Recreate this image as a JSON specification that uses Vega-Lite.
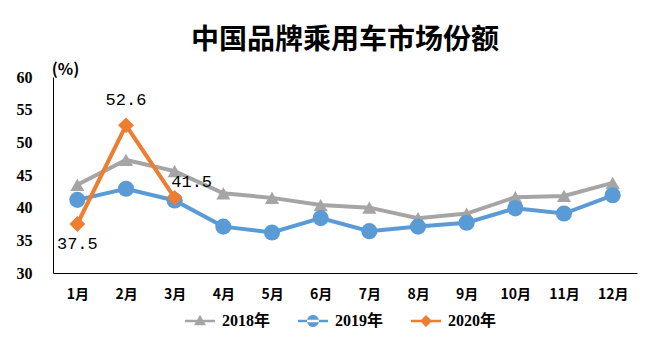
{
  "$schema": "https://vega.github.io/schema/vega-lite/v6.json",
  "width": 584,
  "height": 196,
  "autosize": {"type": "none"},
  "padding": {"left": 53, "top": 77, "right": 11, "bottom": 72},
  "background": "white",
  "title": {
    "text": "中国品牌乘用车市场份额",
    "font": "Noto Sans CJK SC",
    "fontSize": 28,
    "fontWeight": "bold",
    "color": "#000000",
    "anchor": "middle",
    "frame": "group",
    "offset": 6
  },
  "config": {
    "view": {"stroke": null},
    "axis": {"grid": false, "ticks": false, "domainColor": "#000000", "domainWidth": 1}
  },
  "data": {
    "values": [
      {"month": "1月", "year": "2018年", "value": 43.5},
      {"month": "2月", "year": "2018年", "value": 47.3},
      {"month": "3月", "year": "2018年", "value": 45.6},
      {"month": "4月", "year": "2018年", "value": 42.2},
      {"month": "5月", "year": "2018年", "value": 41.5},
      {"month": "6月", "year": "2018年", "value": 40.4},
      {"month": "7月", "year": "2018年", "value": 40.0},
      {"month": "8月", "year": "2018年", "value": 38.4},
      {"month": "9月", "year": "2018年", "value": 39.1},
      {"month": "10月", "year": "2018年", "value": 41.6},
      {"month": "11月", "year": "2018年", "value": 41.8},
      {"month": "12月", "year": "2018年", "value": 43.8},
      {"month": "1月", "year": "2019年", "value": 41.2},
      {"month": "2月", "year": "2019年", "value": 42.9},
      {"month": "3月", "year": "2019年", "value": 41.1},
      {"month": "4月", "year": "2019年", "value": 37.1},
      {"month": "5月", "year": "2019年", "value": 36.2},
      {"month": "6月", "year": "2019年", "value": 38.4},
      {"month": "7月", "year": "2019年", "value": 36.4},
      {"month": "8月", "year": "2019年", "value": 37.1},
      {"month": "9月", "year": "2019年", "value": 37.7},
      {"month": "10月", "year": "2019年", "value": 39.9},
      {"month": "11月", "year": "2019年", "value": 39.1},
      {"month": "12月", "year": "2019年", "value": 41.9},
      {"month": "1月", "year": "2020年", "value": 37.5},
      {"month": "2月", "year": "2020年", "value": 52.6},
      {"month": "3月", "year": "2020年", "value": 41.5}
    ]
  },
  "encoding": {
    "x": {
      "field": "month", "type": "ordinal", "sort": null,
      "scale": {"type": "point", "padding": 0.5},
      "axis": {"title": null, "labelAngle": 0, "labelPadding": 14, "labelFont": "Noto Sans CJK SC", "labelFontSize": 14, "labelFontWeight": "bold", "labelColor": "#000000"}
    },
    "y": {
      "field": "value", "type": "quantitative",
      "scale": {"domain": [30, 60], "nice": false, "zero": false},
      "axis": {
        "values": [30, 35, 40, 45, 50, 55, 60],
        "labelPadding": 21, "labelFont": "Liberation Serif", "labelFontSize": 16, "labelFontWeight": "bold", "labelColor": "#000000",
        "title": "(%)", "titleAngle": 0, "titleX": 12, "titleY": -8, "titleAlign": "center", "titleBaseline": "middle",
        "titleFont": "Noto Sans CJK SC", "titleFontSize": 16, "titleFontWeight": "bold", "titleColor": "#000000"
      }
    }
  },
  "layer": [
    {
      "mark": {"type": "line", "strokeWidth": 4},
      "encoding": {
        "color": {
          "field": "year", "type": "nominal",
          "scale": {"domain": ["2018年", "2019年", "2020年"], "range": ["#A5A5A5", "#5B9BD5", "#ED7D31"]},
          "legend": {
            "title": null, "orient": "none", "direction": "horizontal", "legendX": 139, "legendY": 236,
            "labelFont": "Liberation Serif, Noto Sans CJK SC", "labelFontSize": 16, "labelFontWeight": "bold", "labelColor": "#000000",
            "symbolSize": 225, "symbolStrokeWidth": 0, "symbolOpacity": 1, "columnPadding": 27, "labelOffset": 14,
            "encode": {
              "symbols": {
                "update": {
                  "shape": {"signal": "datum.value == '2018年' ? 'M-2,-0.18H2V0.18H-2Z M0,-0.85L0.8,0.55H-0.8Z' : (datum.value == '2019年' ? 'M-2,-0.18H2V0.18H-2Z M-0.8,0A0.8,0.8,0,1,0,0.8,0A0.8,0.8,0,1,0,-0.8,0Z' : 'M-2,-0.18H2V0.18H-2Z M0,-0.8L0.8,0L0,0.8L-0.8,0Z')"},
                  "fill": {"signal": "datum.value == '2018年' ? '#A5A5A5' : (datum.value == '2019年' ? '#5B9BD5' : '#ED7D31')"},
                  "strokeWidth": {"value": 0}
                }
              }
            }
          }
        }
      }
    },
    {
      "mark": {"type": "point", "filled": true, "opacity": 1, "shape": "triangle-up", "size": 200},
      "transform": [{"filter": "datum.year == '2018年'"}],
      "encoding": {"color": {"value": "#A5A5A5"}}
    },
    {
      "mark": {"type": "point", "filled": true, "opacity": 1, "shape": "circle", "size": 260},
      "transform": [{"filter": "datum.year == '2019年'"}],
      "encoding": {"color": {"value": "#5B9BD5"}}
    },
    {
      "mark": {"type": "point", "filled": true, "opacity": 1, "shape": "diamond", "size": 250},
      "transform": [{"filter": "datum.year == '2020年'"}],
      "encoding": {"color": {"value": "#ED7D31"}}
    },
    {
      "mark": {"type": "text", "font": "Liberation Mono", "fontSize": 17, "color": "#000000", "dy": 20},
      "transform": [{"filter": "datum.year == '2020年' && datum.month == '1月'"}],
      "encoding": {"text": {"field": "value", "type": "quantitative", "format": ".1f"}}
    },
    {
      "mark": {"type": "text", "font": "Liberation Mono", "fontSize": 17, "color": "#000000", "dy": -25},
      "transform": [{"filter": "datum.year == '2020年' && datum.month == '2月'"}],
      "encoding": {"text": {"field": "value", "type": "quantitative", "format": ".1f"}}
    },
    {
      "mark": {"type": "text", "font": "Liberation Mono", "fontSize": 17, "color": "#000000", "dy": -16, "dx": 17},
      "transform": [{"filter": "datum.year == '2020年' && datum.month == '3月'"}],
      "encoding": {"text": {"field": "value", "type": "quantitative", "format": ".1f"}}
    }
  ]
}
